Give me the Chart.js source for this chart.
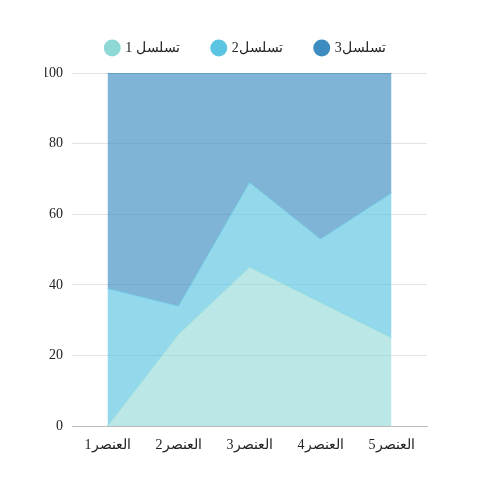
<!DOCTYPE html>
<html>
<head>
<meta charset="utf-8">
<script src="https://cdn.jsdelivr.net/npm/chart.js@4"></script>
<style>
  body { margin: 0; background: #fff; }
  #wrap { width: 500px; height: 500px; }
</style>
</head>
<body>
<div id="wrap"><canvas id="chart"></canvas></div>
<script>
// categories and stacked series values
const categories = ["العنصر1", "العنصر2", "العنصر3", "العنصر4", "العنصر5"]
const series1 = [0, 26, 45, 35, 25]
const series2 = [39, 8, 24, 18, 41]
const series3 = [61, 66, 31, 47, 34]
const seriesNames = ["تسلسل 1", "تسلسل2", "تسلسل3"]
const solidColors = ["#8ed8d6", "#5bc4e0", "#3c8cc0"]
const fillColors = ["rgba(142,216,214,0.6)", "rgba(91,196,224,0.65)", "rgba(60,140,192,0.65)"]

const font = { family: "'Liberation Serif', serif", size: 14 }

// a bit more room under the legend, and nudge it right
const legendGap = {
    id: "legendGap",
    beforeInit(chart) {
        const fit = chart.legend.fit
        chart.legend.fit = function () {
            fit.bind(chart.legend)()
            this.height += 8
        }
    },
    afterLayout(chart) {
        chart.legend.left += 10
        chart.legend.right += 10
    }
}

new Chart(document.getElementById("chart"), {
    type: "line",
    data: {
        labels: categories,
        datasets: [series1, series2, series3].map((d, i) => ({
            label: seriesNames[i],
            data: d,
            fill: i === 0 ? "origin" : "-1",
            backgroundColor: fillColors[i],
            borderColor: fillColors[i],
            borderWidth: 1,
            pointRadius: 0,
            tension: 0
        }))
    },
    options: {
        responsive: true,
        maintainAspectRatio: false,
        animation: false,
        layout: { padding: { left: 45, right: 73, top: 8, bottom: 43 } },
        plugins: {
            tooltip: { enabled: false },
            legend: {
                position: "top",
                labels: {
                    usePointStyle: true,
                    pointStyle: "circle",
                    boxWidth: 12,
                    boxHeight: 12,
                    padding: 33,
                    color: "#222",
                    font: font,
                    generateLabels: (chart) => chart.data.datasets.map((ds, i) => ({
                        text: ds.label,
                        fillStyle: solidColors[i],
                        strokeStyle: solidColors[i],
                        lineWidth: 0,
                        pointStyle: "circle",
                        datasetIndex: i,
                        fontColor: "#222"
                    }))
                }
            }
        },
        scales: {
            x: {
                offset: true,
                grid: { display: false },
                border: { color: "#bbb" },
                ticks: { color: "#222", font: font }
            },
            y: {
                stacked: true,
                min: 0,
                max: 100,
                afterFit: (axis) => { axis.width = 27 },
                ticks: { stepSize: 20, color: "#222", font: font, padding: 9 },
                grid: { color: "#e4e4e4", drawTicks: false },
                border: { display: false }
            }
        }
    },
    plugins: [legendGap]
})
</script>
</body>
</html>
